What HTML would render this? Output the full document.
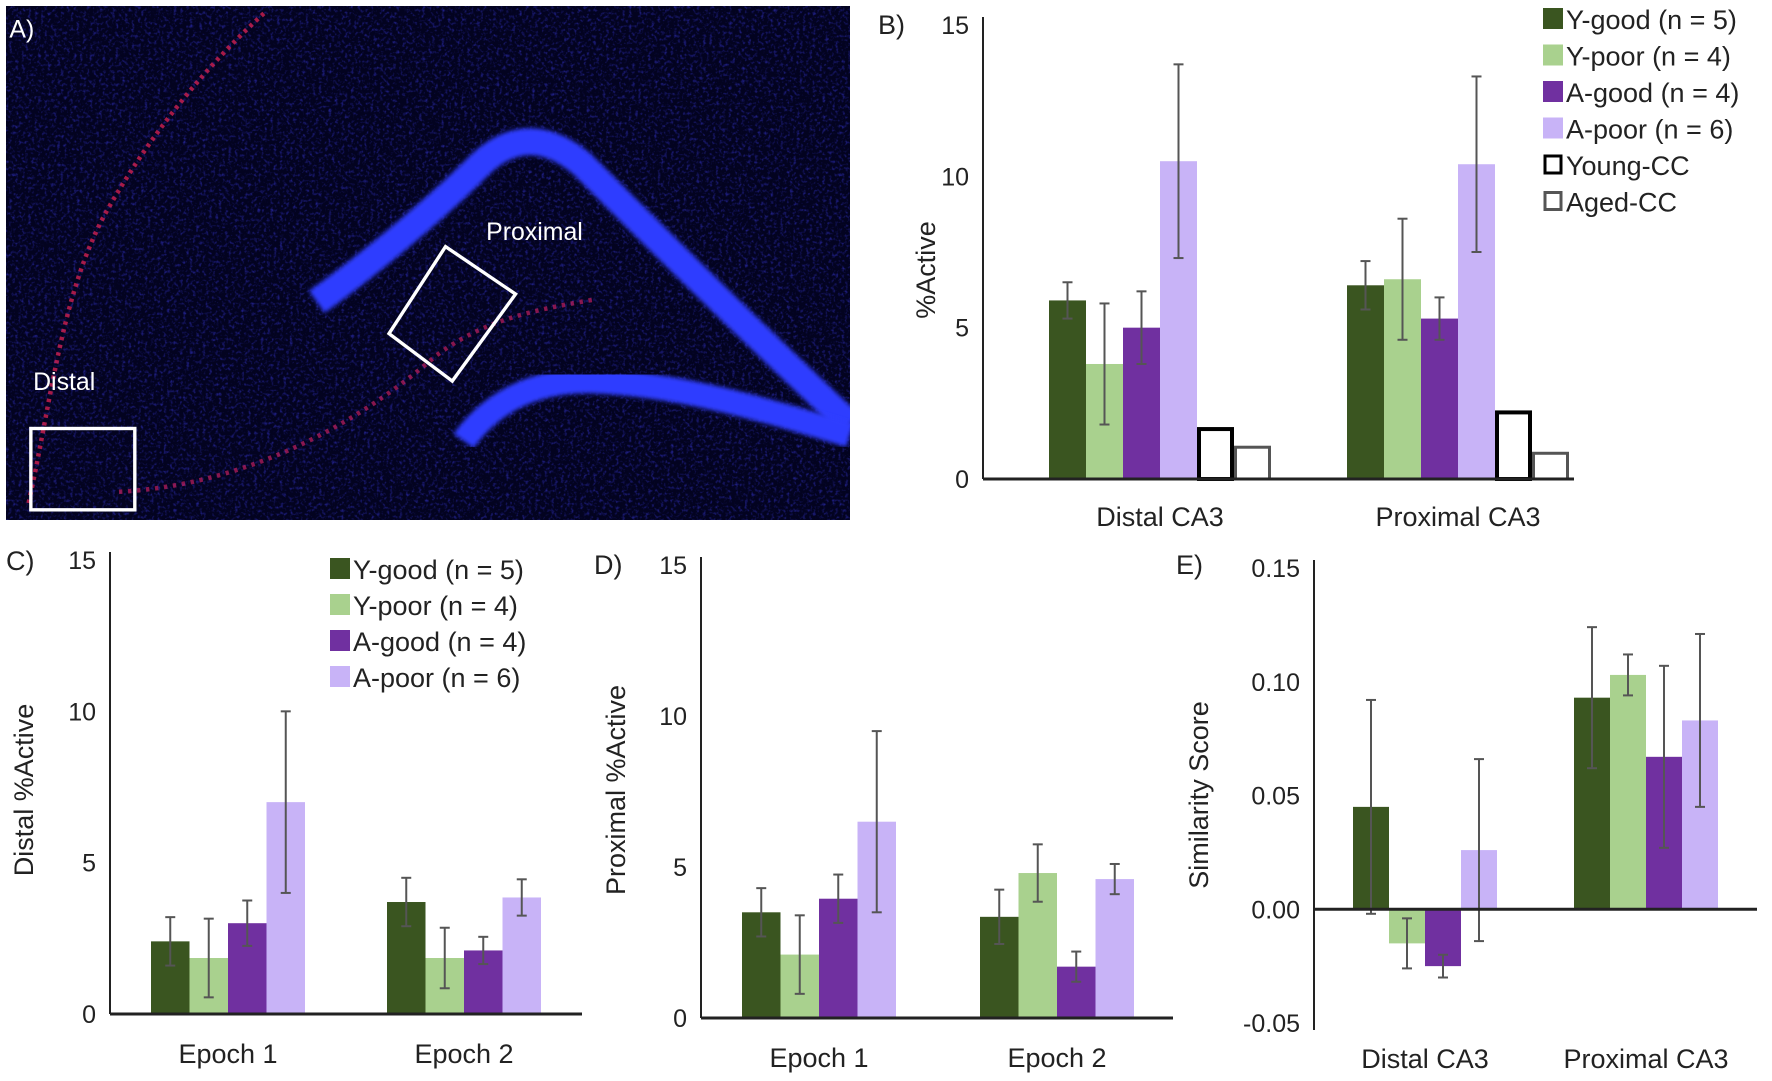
<!DOCTYPE html>
<html><head><meta charset="utf-8"><style>
html,body{margin:0;padding:0;background:#fff;width:1772px;height:1081px;overflow:hidden}
svg text{font-family:"Liberation Sans",sans-serif}
</style></head><body>
<svg id="fig" width="1772" height="1081" viewBox="0 0 1772 1081" xmlns="http://www.w3.org/2000/svg">
<defs>
<filter id="noise" x="0" y="0" width="100%" height="100%">
<feTurbulence type="fractalNoise" baseFrequency="0.35" numOctaves="2" seed="4"/>
<feColorMatrix type="matrix" values="0 0 0 0 0.05  0 0 0 0 0.05  0 0 0 0 0.9  0 0 0 1.6 -0.8"/>
</filter>
<filter id="blur"><feGaussianBlur stdDeviation="2"/></filter>
</defs>
<g>
<svg x="6" y="6" width="844" height="514" viewBox="0 0 747 455" preserveAspectRatio="none">
<rect width="747" height="455" fill="#030320"/>
<rect width="747" height="455" filter="url(#noise)" opacity="0.8"/>
<path d="M275,262 C320,230 380,180 420,140 C450,112 480,115 510,140 C560,190 640,270 747,370" stroke="#2f3cff" stroke-width="24" fill="none" filter="url(#blur)"/>
<path d="M405,385 C430,350 470,330 520,332 C600,335 680,360 747,380" stroke="#2f3cff" stroke-width="22" fill="none" filter="url(#blur)"/>
<path d="M20,440 C40,350 50,250 90,180 C130,110 180,50 230,5" stroke="#d02050" stroke-width="4" fill="none" stroke-dasharray="3 4" opacity="0.8"/>
<path d="M100,430 C200,425 300,380 380,310 C420,280 460,270 520,260" stroke="#c02060" stroke-width="4" fill="none" stroke-dasharray="3 5" opacity="0.7"/>
<rect x="22" y="374" width="92" height="72" fill="none" stroke="#fff" stroke-width="3"/>
<polygon points="339,290 389,213 451,255 395,332" fill="none" stroke="#fff" stroke-width="3"/>
<text x="425" y="207" fill="#fff" font-size="22">Proximal</text>
<text x="24" y="340" fill="#fff" font-size="22">Distal</text>
<text x="3" y="28" fill="#fff" font-size="22">A)</text>
</svg>
</g>
<g id="charts"></g>
</svg>
<script>
// Panel B data
const bCats = ["Distal CA3", "Proximal CA3"];
const bYgood = [5.9, 6.4];
const bYgoodErr = [0.6, 0.8];
const bYpoor = [3.8, 6.6];
const bYpoorErr = [2.0, 2.0];
const bAgood = [5.0, 5.3];
const bAgoodErr = [1.2, 0.7];
const bApoor = [10.5, 10.4];
const bApoorErr = [3.2, 2.9];
const bYoungCC = [1.65, 2.2];
const bAgedCC = [1.05, 0.85];
const bTicks = [0, 5, 10, 15];
// Panel C data
const cCats = ["Epoch 1", "Epoch 2"];
const cYgood = [2.4, 3.7];
const cYgoodErr = [0.8, 0.8];
const cYpoor = [1.85, 1.85];
const cYpoorErr = [1.3, 1.0];
const cAgood = [3.0, 2.1];
const cAgoodErr = [0.75, 0.45];
const cApoor = [7.0, 3.85];
const cApoorErr = [3.0, 0.6];
const cTicks = [0, 5, 10, 15];
// Panel D data
const dCats = ["Epoch 1", "Epoch 2"];
const dYgood = [3.5, 3.35];
const dYgoodErr = [0.8, 0.9];
const dYpoor = [2.1, 4.8];
const dYpoorErr = [1.3, 0.95];
const dAgood = [3.95, 1.7];
const dAgoodErr = [0.8, 0.5];
const dApoor = [6.5, 4.6];
const dApoorErr = [3.0, 0.5];
const dTicks = [0, 5, 10, 15];
// Panel E data
const eCats = ["Distal CA3", "Proximal CA3"];
const eYgood = [0.045, 0.093];
const eYgoodErr = [0.047, 0.031];
const eYpoor = [-0.015, 0.103];
const eYpoorErr = [0.011, 0.009];
const eAgood = [-0.025, 0.067];
const eAgoodErr = [0.005, 0.040];
const eApoor = [0.026, 0.083];
const eApoorErr = [0.040, 0.038];
const eTicks = [-0.05, 0.00, 0.05, 0.10, 0.15];

const NS = "http://www.w3.org/2000/svg";
const root = document.getElementById("charts");
const COL = {yg:"#3a5520", yp:"#a9d18e", ag:"#7030a0", ap:"#c8b3f7"};
function mk(tag, attrs, parent){
  const e = document.createElementNS(NS, tag);
  for (const k in attrs) e.setAttribute(k, attrs[k]);
  (parent||root).appendChild(e);
  return e;
}
function drawChart(cfg){
  const g = mk("g", {});
  
  
  const y = v => cfg.y0 - (v - cfg.min) / (cfg.max - cfg.min) * (cfg.y0 - cfg.ytop);
  cfg.ticks.forEach(t => {
    const tx = mk("text", {x: cfg.ax - 14, y: y(t) + 9, "text-anchor": "end", "font-size": 25, fill: "#222"}, g);
    tx.textContent = cfg.fmt ? t.toFixed(2) : String(t);
    
    
  });
  const yax = mk("line", {x1: cfg.ax, x2: cfg.ax, y1: cfg.ytop - 8, y2: cfg.ybot, stroke: "#222", "stroke-width": 2}, g);
  
  
  const n = cfg.series.length;
  cfg.cats.forEach((c, i) => {
    const cx = cfg.centers[i];
    cfg.series.forEach((s, j) => {
      const v = s.vals[i];
      const x = cx - n * cfg.bw / 2 + j * cfg.bw;
      const top = Math.min(y(v), y(0)), h = Math.abs(y(v) - y(0));
      const r = s.outline
        ? mk("rect", {x: x + s.sw/2, y: top, width: cfg.bw - s.sw, height: h, fill: "#fff", stroke: s.outline, "stroke-width": s.sw}, g)
        : mk("rect", {x: x, y: top, width: cfg.bw, height: h, fill: s.color}, g);
      
      
      if (s.err) {
        const e = s.err[i], mx = x + cfg.bw / 2;
        const eg = mk("g", {stroke: "#555", "stroke-width": 2}, g);
        
        
        mk("line", {x1: mx, x2: mx, y1: y(v - e), y2: y(v + e)}, eg);
        mk("line", {x1: mx - 5, x2: mx + 5, y1: y(v - e), y2: y(v - e)}, eg);
        mk("line", {x1: mx - 5, x2: mx + 5, y1: y(v + e), y2: y(v + e)}, eg);
      }
    });
    const lt = mk("text", {x: cx, y: cfg.labelY, "text-anchor": "middle", "font-size": 27, fill: "#222"}, g);
    lt.textContent = c;
    
    
  });
  const xax = mk("line", {x1: cfg.ax, x2: cfg.axEnd, y1: y(0), y2: y(0), stroke: "#222", "stroke-width": 3}, g);
  
  
  const tt = mk("text", {transform: `translate(${cfg.titleX},${cfg.titleY}) rotate(-90)`, "text-anchor": "middle", "font-size": 27, fill: "#222"}, g);
  tt.textContent = cfg.title;
  
  
  const pl = mk("text", {x: cfg.plX, y: cfg.plY, "font-size": 27, fill: "#222"}, g);
  pl.textContent = cfg.panel;
  
  
}
function legend(x, y0, step, items){
  const g = mk("g", {});
  
  
  items.forEach((it, i) => {
    const yy = y0 + i * step;
    const sq = it.outline
      ? mk("rect", {x: x + 2, y: yy - 9, width: 16, height: 17, fill: "#fff", stroke: it.outline, "stroke-width": 3}, g)
      : mk("rect", {x: x, y: yy - 11, width: 20, height: 21, fill: it.color}, g);
    
    
    const t = mk("text", {x: x + 23, y: yy + 10, "font-size": 27, fill: "#222"}, g);
    t.textContent = it.label;
    
    
  });
}
drawChart({name:"chart-b", panel:"B)", plX:878, plY:34, title:"%Active", titleX:935, titleY:270,
  cats:bCats, centers:[1160,1458], bw:37, ax:983, axEnd:1574, ytop:25, y0:479, ybot:479, min:0, max:15, ticks:bTicks, labelY:526,
  series:[{key:"y-good",vals:bYgood,err:bYgoodErr,color:COL.yg},{key:"y-poor",vals:bYpoor,err:bYpoorErr,color:COL.yp},
    {key:"a-good",vals:bAgood,err:bAgoodErr,color:COL.ag},{key:"a-poor",vals:bApoor,err:bApoorErr,color:COL.ap},
    {key:"young-cc",vals:bYoungCC,outline:"#000",sw:4},{key:"aged-cc",vals:bAgedCC,outline:"#555",sw:3}]});
legend(1543, 19, 36.5, [{label:"Y-good (n = 5)",color:COL.yg},{label:"Y-poor  (n = 4)",color:COL.yp},{label:"A-good (n = 4)",color:COL.ag},
  {label:"A-poor (n = 6)",color:COL.ap},{label:"Young-CC",outline:"#000"},{label:"Aged-CC",outline:"#555"}]);
drawChart({name:"chart-c", panel:"C)", plX:6, plY:570, title:"Distal %Active", titleX:33, titleY:790,
  cats:cCats, centers:[228,464], bw:38.5, ax:110, axEnd:582, ytop:560, y0:1014, ybot:1014, min:0, max:15, ticks:cTicks, labelY:1063,
  series:[{key:"y-good",vals:cYgood,err:cYgoodErr,color:COL.yg},{key:"y-poor",vals:cYpoor,err:cYpoorErr,color:COL.yp},
    {key:"a-good",vals:cAgood,err:cAgoodErr,color:COL.ag},{key:"a-poor",vals:cApoor,err:cApoorErr,color:COL.ap}]});
legend(330, 569, 36, [{label:"Y-good (n = 5)",color:COL.yg},{label:"Y-poor  (n = 4)",color:COL.yp},{label:"A-good (n = 4)",color:COL.ag},{label:"A-poor (n = 6)",color:COL.ap}]);
drawChart({name:"chart-d", panel:"D)", plX:594, plY:574, title:"Proximal %Active", titleX:625, titleY:790,
  cats:dCats, centers:[819,1057], bw:38.5, ax:701, axEnd:1173, ytop:565, y0:1018, ybot:1018, min:0, max:15, ticks:dTicks, labelY:1067,
  series:[{key:"y-good",vals:dYgood,err:dYgoodErr,color:COL.yg},{key:"y-poor",vals:dYpoor,err:dYpoorErr,color:COL.yp},
    {key:"a-good",vals:dAgood,err:dAgoodErr,color:COL.ag},{key:"a-poor",vals:dApoor,err:dApoorErr,color:COL.ap}]});
drawChart({name:"chart-e", panel:"E)", plX:1176, plY:574, title:"Similarity Score", titleX:1208, titleY:795, fmt:true,
  cats:eCats, centers:[1425,1646], bw:36, ax:1314, axEnd:1757, ytop:568, y0:1023, ybot:1030, min:-0.05, max:0.15, ticks:eTicks, labelY:1068,
  series:[{key:"y-good",vals:eYgood,err:eYgoodErr,color:COL.yg},{key:"y-poor",vals:eYpoor,err:eYpoorErr,color:COL.yp},
    {key:"a-good",vals:eAgood,err:eAgoodErr,color:COL.ag},{key:"a-poor",vals:eApoor,err:eApoorErr,color:COL.ap}]});
</script>
</body></html>
